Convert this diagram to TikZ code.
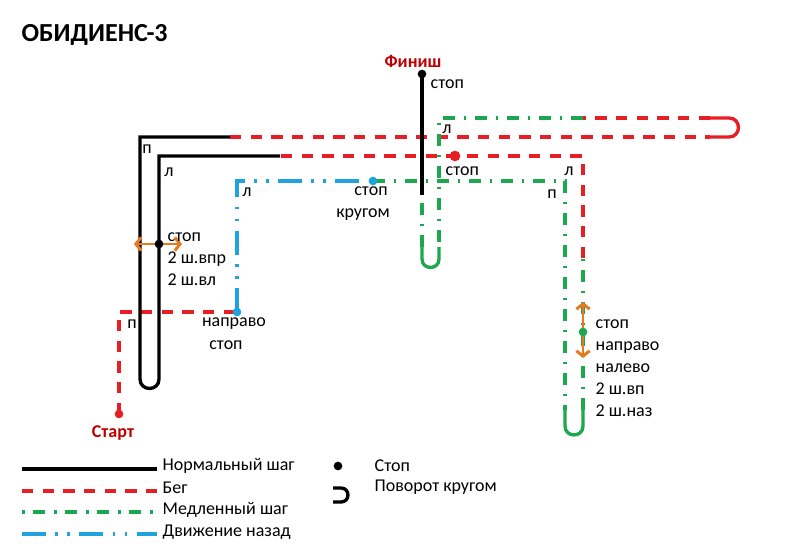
\documentclass[tikz,border=0pt]{standalone}
\usepackage{fontspec}
\setmainfont{Carlito}
\usetikzlibrary{arrows.meta}
\definecolor{runred}{RGB}{232,30,37}
\definecolor{slowgreen}{RGB}{28,168,78}
\definecolor{backblue}{RGB}{30,163,222}
\definecolor{turnorange}{RGB}{230,122,35}
\definecolor{flagred}{RGB}{192,0,0}

\begin{document}
\begin{tikzpicture}[x=0.75pt,y=-0.75pt,line width=2.5pt,
  walk/.style={draw=black},
  run/.style={draw=runred,dash pattern=on 8.5pt off 7pt},
  slow/.style={draw=slowgreen,dash pattern=on 9pt off 6.5pt on 2pt off 6.5pt},
  back/.style={draw=backblue,dash pattern=on 18pt off 7pt on 2pt off 7pt on 2pt off 7pt},
  uturn/.style={out=-90,in=-90,looseness=1.7},
  uturnright/.style={out=0,in=0,looseness=1.7},
  stopdot/.style={circle,inner sep=0pt,minimum size=6.5pt,fill=#1},
  stopdot/.default=black,
  lbl/.style={inner sep=0pt,font=\fontsize{13.5}{16.5}\selectfont},
  flag/.style={lbl,text=flagred,font=\fontsize{13.5}{16.5}\selectfont\bfseries},
  sidestep/.style={draw=turnorange,line width=2.2pt,{Straight Barb[length=4pt,width=10pt]}-{Straight Barb[length=4pt,width=10pt]}}]

  \useasboundingbox (0,0) rectangle (800,552);

  \node[anchor=west,inner sep=0pt,font=\fontsize{19.5}{22}\selectfont\bfseries] (title) at (20,35) {ОБИДИЕНС-3};

  \coordinate (start)  at (119,414);
  \coordinate (c1)     at (119,312);
  \coordinate (s1)     at (237,312);
  \coordinate (c2)     at (237,181);
  \coordinate (s2)     at (373,181);
  \coordinate (c3)     at (565,181);
  \coordinate (u1a)    at (565,410);
  \coordinate (u1b)    at (583,410);
  \coordinate (s3)     at (583,332);
  \coordinate (t1)     at (583,258);
  \coordinate (c4)     at (583,156);
  \coordinate (s4)     at (455,156);
  \coordinate (t2)     at (280,156);
  \coordinate (c5)     at (159,156);
  \coordinate (s5)     at (159,244);
  \coordinate (u2a)    at (159,379);
  \coordinate (u2b)    at (140,379);
  \coordinate (c6)     at (140,137);
  \coordinate (t3)     at (230,137);
  \coordinate (u3a)    at (710,137);
  \coordinate (u3b)    at (710,118);
  \coordinate (t4)     at (583,118);
  \coordinate (c7)     at (439,118);
  \coordinate (u4a)    at (439,247);
  \coordinate (u4b)    at (422,247);
  \coordinate (t5)     at (422,195);
  \coordinate (finish) at (422,74);

  \draw[run]  (start) -- (c1) -- (s1);
  \draw[back] (s1) -- (c2) -- (s2);
  \draw[slow] (s2) -- (c3) -- (u1a);
  \draw[slow,solid] (u1a) -- ++(0,16) to[uturn] ++(18,0) -- (u1b);
  \draw[slow] (u1b) -- (s3) -- (t1);
  \draw[run]  (t1) -- (c4) -- (s4) -- (t2);
  \draw[run]  (t3) -- (u3a);
  \draw[run,solid] (u3a) -- ++(19,0) to[uturnright] ++(0,-19) -- (u3b);
  \draw[run]  (u3b) -- (t4);
  \draw[slow] (t4) -- (c7) -- (u4a);
  \draw[slow,solid] (u4a) -- ++(0,12) to[uturn] ++(-17,0) -- (u4b);
  \draw[slow] (u4b) -- (t5);
  \draw[walk] (t2) -- (c5) -- (s5) -- (u2a) to[uturn] (u2b) -- (c6) -- (t3);
  \draw[walk] (t5) -- (finish);

  \coordinate (a1) at (134,244);
  \coordinate (a2) at (182,244);
  \coordinate (a3) at (583,302);
  \coordinate (a4) at (583,358);
  \draw[sidestep] (a1) -- (a2);
  \draw[sidestep] (a3) -- (a4);

  \node[stopdot=runred]    (startdot)  at (start)  {};
  \node[stopdot=backblue]  (s1dot)     at (s1)     {};
  \node[stopdot=backblue]  (s2dot)     at (s2)     {};
  \node[stopdot=slowgreen] (s3dot)     at (s3)     {};
  \node[stopdot=runred,minimum size=8pt] (s4dot) at (s4) {};
  \node[stopdot]           (s5dot)     at (s5)     {};
  \node[stopdot]           (finishdot) at (finish) {};

  \node[flag] (starttxt)  at (113,433) {Старт};
  \node[flag] (finishtxt) at (413,61)  {Финиш};
  \node[lbl,anchor=west] (fstop) at (429,84) {стоп};
  \node[lbl] (l1) at (447,129) {л};
  \node[lbl,anchor=west] (s4txt) at (444,171) {стоп};
  \node[lbl] (l2) at (569,171) {л};
  \node[lbl] (p1) at (552,194) {п};
  \node[lbl] (s2a) at (371,191) {стоп};
  \node[lbl] (s2b) at (363,215) {кругом};
  \node[lbl] (l3) at (247,192) {л};
  \node[lbl] (p2) at (147,149) {п};
  \node[lbl] (l4) at (169,172) {л};
  \node[lbl,anchor=west,align=left] (s5txt) at (166,259) {стоп\\2 ш.впр\\2 ш.вл};
  \node[lbl] (p3) at (132,324) {п};
  \node[lbl] (s1a) at (234,324) {направо};
  \node[lbl] (s1b) at (226,345) {стоп};
  \node[lbl,anchor=west,align=left] (s3txt) at (594,368) {стоп\\направо\\налево\\2 ш.вп\\2 ш.наз};

  \coordinate (k1a) at (22,469);  \coordinate (k1b) at (157,469);
  \coordinate (k2a) at (22,491);  \coordinate (k2b) at (157,491);
  \coordinate (k3a) at (22,512);  \coordinate (k3b) at (157,512);
  \coordinate (k4a) at (22,534);  \coordinate (k4b) at (157,534);
  \draw[walk] (k1a) -- (k1b);
  \draw[run]  (k2a) -- (k2b);
  \draw[slow,dash phase=15.5pt] (k3a) -- (k3b);
  \draw[back] (k4a) -- (k4b);
  \node[lbl,anchor=west] (lg1) at (161,466) {Нормальный шаг};
  \node[lbl,anchor=west] (lg2) at (161,488) {Бег};
  \node[lbl,anchor=west] (lg3) at (161,510) {Медленный шаг};
  \node[lbl,anchor=west] (lg4) at (161,532) {Движение назад};

  \node[stopdot] (lgdot) at (338,466) {};
  \coordinate (lgu1) at (333,488);
  \coordinate (lgu2) at (333,502);
  \draw[walk] (lgu1) -- ++(8,0) to[uturnright] ++(0,14) -- (lgu2);
  \node[lbl,anchor=west] (lg5) at (373,466) {Стоп};
  \node[lbl,anchor=west] (lg6) at (373,487) {Поворот кругом};
\end{tikzpicture}
\end{document}
